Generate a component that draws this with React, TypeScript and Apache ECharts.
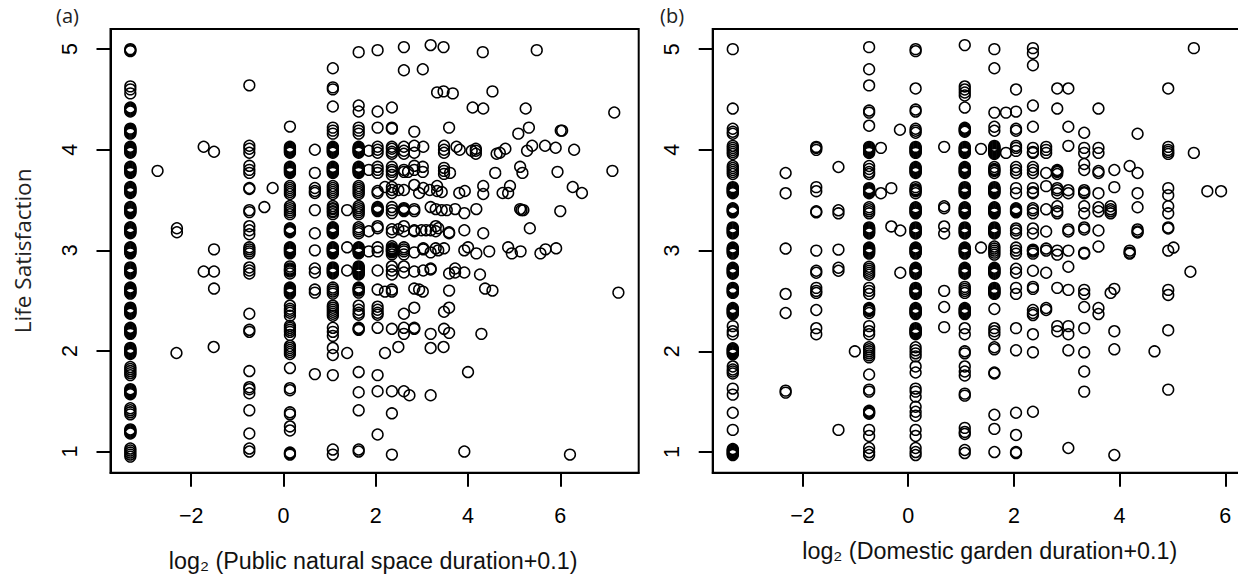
import React, { useEffect, useRef } from "react";
import * as echarts from "echarts";

const xTicksA = [-2, 0, 2, 4, 6];
const xTicksB = [-2, 0, 2, 4, 6];
const yTicks = [1, 2, 3, 4, 5];

// Panel (a): [x, y values] read column by column
const panelAColumns: [number, number[]][] = [
  [-3.32, [5, 4.99, 4.98, 4.63, 4.6, 4.56, 4.42, 4.41, 4.4, 4.39, 4.38, 4.21, 4.2, 4.19, 4.18, 4.17, 4.16,
    4.03, 4.02, 4.01, 4, 3.99, 3.98, 3.97, 3.83, 3.82, 3.81, 3.8, 3.79, 3.78, 3.77, 3.63, 3.62, 3.61, 3.6, 3.59, 3.58, 3.57,
    3.43, 3.42, 3.41, 3.4, 3.39, 3.38, 3.37, 3.23, 3.22, 3.21, 3.2, 3.19, 3.18, 3.17, 3.03, 3.02, 3.01, 3, 2.99, 2.98, 2.97,
    2.83, 2.82, 2.81, 2.8, 2.79, 2.78, 2.77, 2.63, 2.62, 2.61, 2.6, 2.59, 2.58, 2.57, 2.43, 2.42, 2.41, 2.4, 2.39, 2.38, 2.37,
    2.23, 2.22, 2.21, 2.2, 2.19, 2.18, 2.17, 2.03, 2.02, 2.01, 2, 1.99, 1.98, 1.97, 1.84, 1.82, 1.8, 1.78, 1.76,
    1.62, 1.61, 1.6, 1.59, 1.58, 1.57, 1.43, 1.41, 1.39, 1.37, 1.22, 1.21, 1.2, 1.19, 1.18, 1.03, 1.01, 0.99, 0.97, 0.95]],
  [-0.74, [4.64, 4.04, 4.01, 3.97, 3.84, 3.8, 3.77, 3.62, 3.61, 3.4, 3.38, 3.24, 3.2, 3.16, 3.03, 3.01, 2.99, 2.97, 2.83, 2.8, 2.77, 2.37, 2.21, 2.19, 1.8, 1.64, 1.62, 1.58, 1.41, 1.18, 1.03, 1]],
  [0.14, [4.23, 4.03, 4.02, 4.01, 4, 3.99, 3.98, 3.97, 3.83, 3.82, 3.81, 3.8, 3.79, 3.78, 3.77, 3.64, 3.62, 3.6, 3.58, 3.56,
    3.44, 3.42, 3.4, 3.38, 3.36, 3.22, 3.21, 3.2, 3.19, 3.18, 3.03, 3.02, 3.01, 3, 2.99, 2.98, 2.97, 2.84, 2.82, 2.81, 2.8, 2.79, 2.77,
    2.63, 2.62, 2.61, 2.6, 2.59, 2.58, 2.57, 2.45, 2.42, 2.4, 2.38, 2.35, 2.25, 2.23, 2.21, 2.19, 2.16, 2.05, 2.03, 2.01, 1.99, 1.97, 1.83, 1.63, 1.61, 1.39, 1.37, 1.25, 1.21, 0.99, 0.98, 0.97]],
  [0.68, [4, 3.77, 3.62, 3.59, 3.57, 3.4, 3.17, 3, 2.82, 2.78, 2.61, 2.58, 1.77]],
  [1.07, [4.81, 4.62, 4.6, 4.43, 4.22, 4.19, 4.16, 4.03, 4.02, 4.01, 4, 3.99, 3.98, 3.97, 3.83, 3.82, 3.81, 3.8, 3.79, 3.78, 3.77,
    3.64, 3.62, 3.6, 3.58, 3.56, 3.44, 3.42, 3.41, 3.39, 3.38, 3.36, 3.23, 3.22, 3.21, 3.2, 3.19, 3.18, 3.17, 3.03, 3.02, 3.01, 3, 2.99, 2.98, 2.97,
    2.83, 2.82, 2.81, 2.8, 2.79, 2.78, 2.77, 2.63, 2.61, 2.59, 2.57, 2.45, 2.43, 2.41, 2.39, 2.37, 2.35, 2.23, 2.19, 2.15, 2.03, 1.96, 1.76, 1.02, 0.97]],
  [1.38, [3.4, 3.03, 2.8, 1.98]],
  [1.63, [4.97, 4.44, 4.38, 4.22, 4.19, 4.16, 4.03, 4.02, 4.01, 4, 3.99, 3.98, 3.97, 3.83, 3.82, 3.81, 3.8, 3.79, 3.78, 3.77,
    3.64, 3.62, 3.6, 3.58, 3.56, 3.44, 3.42, 3.4, 3.38, 3.36, 3.23, 3.21, 3.19, 3.17, 3.03, 3.02, 3.01, 3, 2.99, 2.98, 2.97,
    2.84, 2.83, 2.82, 2.81, 2.8, 2.79, 2.78, 2.77, 2.76, 2.63, 2.62, 2.61, 2.6, 2.58, 2.45, 2.41, 2.38, 2.36, 2.23, 2.22, 2.21, 1.79, 1.59, 1.41, 1.02, 1]],
  [2.04, [4.99, 4.38, 4.22, 4.03, 4, 3.97, 3.83, 3.8, 3.77, 3.59, 3.57, 3.43, 3.42, 3.41, 3.4, 3.39, 3.24, 3.22, 3.03, 2.99, 2.8, 2.61, 2.44, 2.41, 2.38, 2.36, 2.23, 1.76, 1.6, 1.17]],
  [2.35, [4.42, 4.22, 4.21, 4.03, 4.01, 3.98, 3.96, 3.83, 3.8, 3.78, 3.75, 3.63, 3.6, 3.57, 3.43, 3.4, 3.37, 3.21, 3.18, 3.04, 3.02, 3.01, 3, 2.99, 2.98, 2.96, 2.84, 2.8, 2.76, 2.61, 2.59, 2.22, 1.6, 1.38, 0.97]],
  [2.61, [5.02, 4.79, 4.03, 3.99, 3.96, 3.8, 3.78, 3.6, 3.42, 3.41, 3.4, 3.39, 3.24, 3.19, 3.03, 3.01, 2.99, 2.96, 2.84, 2.78, 2.37, 2.23, 2.17, 1.6]],
  [2.835, [4.18, 4.04, 3.97, 3.84, 3.8, 3.65, 3.41, 3.39, 3.2, 3.19, 2.98, 2.79, 2.62, 2.43, 2.23, 2.22]],
];

const panelAX = [-2.73, -2.31, -2.31, -1.73, -1.506, -1.506, -1.73, -1.506, -1.506, -1.513, -2.32, -0.235, -0.415, 1.85, 1.85, 1.85, 1.85, 2.2, 2.2, 2.2, 2.49, 2.49, 2.49, 2.7, 2.73, 2.94, 2.94, 2.99, 3.02, 3.02, 3.02, 3.02, 3.03, 3.03, 3.03, 3.03, 3.03, 3.09, 3.17, 3.19, 3.19, 3.19, 3.19, 3.19, 3.19, 3.19, 3.19, 3.19, 3.3, 3.3, 3.3, 3.3, 3.33, 3.33, 3.33, 3.355, 3.355, 3.43, 3.43, 3.47, 3.47, 3.47, 3.48, 3.48, 3.48, 3.48, 3.48, 3.48, 3.48, 3.48, 3.48, 3.54, 3.59, 3.59, 3.59, 3.59, 3.59, 3.59, 3.59, 3.61, 3.67, 3.72, 3.72, 3.72, 3.75, 3.81, 3.82, 3.92, 3.92, 3.92, 3.92, 3.93, 4, 4, 4.08, 4.1, 4.17, 4.17, 4.17, 4.18, 4.18, 4.26, 4.29, 4.32, 4.33, 4.33, 4.33, 4.33, 4.37, 4.46, 4.53, 4.53, 4.59, 4.62, 4.69, 4.75, 4.81, 4.87, 4.87, 4.91, 4.95, 5.09, 5.13, 5.13, 5.14, 5.16, 5.18, 5.2, 5.25, 5.28, 5.32, 5.34, 5.39, 5.49, 5.57, 5.67, 5.68, 5.9, 5.91, 5.94, 6, 6.01, 6.04, 6.21, 6.27, 6.3, 6.47, 7.13, 7.17, 7.26, 3.92];
const panelAY = [3.79, 3.22, 3.18, 4.03, 3.98, 3.01, 2.79, 2.79, 2.62, 2.04, 1.98, 3.62, 3.43, 3.99, 3.8, 3.19, 2.99, 3.63, 2.59, 1.98, 3.6, 3.21, 2.04, 3.78, 1.56, 3.57, 2.61, 3.2, 4.8, 3.83, 3.78, 2.59, 4.03, 3.62, 3.01, 3.02, 2.8, 3.2, 3.6, 5.04, 3.43, 3.2, 2.98, 2.81, 2.82, 2.17, 2.03, 1.56, 3.41, 3.24, 3.19, 3.02, 4.57, 3.64, 3.59, 3.22, 3, 3.58, 3.4, 5.02, 4.58, 2.04, 4.04, 4, 3.97, 3.82, 3.79, 3.76, 3.02, 2.39, 2.22, 3.4, 4.22, 3.18, 3.17, 2.77, 2.6, 2.43, 2.18, 3.77, 4.56, 3.41, 2.82, 2.78, 4.03, 3.57, 4, 3.37, 3.2, 3, 2.78, 3.59, 3.03, 1.79, 3.99, 4.42, 4.01, 3.99, 3.96, 3.41, 2.97, 2.76, 2.17, 4.97, 4.41, 3.64, 3.56, 3.17, 2.62, 2.99, 4.58, 2.6, 3.77, 3.96, 3.97, 3.57, 4.01, 3.57, 3.03, 3.64, 2.97, 4.16, 3.83, 3.41, 2.99, 3.4, 3.77, 3.4, 4.41, 3.99, 4.22, 3.22, 4.04, 4.99, 2.97, 4.04, 3.01, 4.02, 3.02, 3.78, 3.39, 4.19, 4.19, 0.97, 3.63, 4, 3.57, 3.79, 4.37, 2.58, 1];

// Panel (b)
const panelBColumns: [number, number[]][] = [
  [-3.32, [5, 4.41, 4.21, 4.18, 4.16, 4.04, 4.02, 4, 3.98, 3.96, 3.84, 3.82, 3.8, 3.78, 3.76, 3.63, 3.62, 3.61, 3.6, 3.59, 3.58, 3.57,
    3.42, 3.41, 3.4, 3.39, 3.38, 3.23, 3.22, 3.21, 3.2, 3.19, 3.18, 3.17, 3.03, 3.02, 3.01, 3, 2.99, 2.98, 2.97, 2.83, 2.82, 2.81, 2.8, 2.79, 2.78, 2.77,
    2.63, 2.62, 2.61, 2.6, 2.59, 2.58, 2.43, 2.42, 2.41, 2.4, 2.39, 2.38, 2.37, 2.25, 2.2, 2.17, 2.03, 2.02, 2.01, 2, 1.99, 1.98, 1.97, 1.85, 1.82, 1.8, 1.78, 1.63, 1.57, 1.39, 1.22, 1.03, 1.02, 1.01, 1, 0.99, 0.98, 0.97]],
  [-2.32, [3.77, 3.57, 3.02, 2.57, 2.38, 1.61, 1.59]],
  [-1.74, [4.03, 4.02, 4, 3.63, 3.59, 3.39, 3.38, 3, 2.8, 2.78, 2.63, 2.6, 2.58, 2.41, 2.23, 2.17]],
  [-1.32, [3.83, 3.4, 3.37, 3.01, 2.83, 2.8, 1.22]],
  [-0.74, [5.02, 4.8, 4.64, 4.39, 4.37, 4.24, 4.03, 4.02, 4.01, 4, 3.99, 3.98, 3.97, 3.84, 3.81, 3.78, 3.76, 3.62, 3.61, 3.6, 3.59, 3.58, 3.57, 3.43, 3.41, 3.39, 3.37,
    3.23, 3.22, 3.21, 3.2, 3.19, 3.18, 3.17, 3.03, 3.02, 3.01, 3, 2.99, 2.98, 2.97, 2.84, 2.82, 2.8, 2.78, 2.76, 2.63, 2.6, 2.57, 2.43, 2.42, 2.41, 2.4, 2.38, 2.25, 2.2, 2.17, 2.04, 2.02, 2, 1.98, 1.96, 1.94, 1.77, 1.62, 1.6, 1.41, 1.4, 1.39, 1.38, 1.22, 1.16, 1.04, 1, 0.97]],
  [0.14, [5, 4.98, 4.61, 4.4, 4.38, 4.21, 4.19, 4.17, 4.03, 4.02, 4.01, 4, 3.99, 3.98, 3.97, 3.83, 3.82, 3.81, 3.8, 3.79, 3.78, 3.77, 3.63, 3.61, 3.6, 3.59, 3.57, 3.43, 3.42, 3.41, 3.4, 3.39, 3.38, 3.37,
    3.23, 3.22, 3.21, 3.2, 3.19, 3.18, 3.17, 3.03, 3.02, 3.01, 3, 2.99, 2.98, 2.97, 2.83, 2.82, 2.81, 2.8, 2.79, 2.78, 2.77, 2.63, 2.62, 2.61, 2.6, 2.59, 2.58, 2.57,
    2.43, 2.42, 2.41, 2.4, 2.39, 2.38, 2.37, 2.23, 2.22, 2.21, 2.2, 2.19, 2.18, 2.17, 2.04, 2.01, 1.98, 1.95, 1.85, 1.79, 1.63, 1.6, 1.55, 1.45, 1.4, 1.36, 1.22, 1.16, 1.04, 1, 0.97]],
  [0.68, [4.03, 3.44, 3.42, 3.24, 3.17, 2.6, 2.44, 2.24]],
  [1.07, [5.04, 4.63, 4.6, 4.57, 4.54, 4.42, 4.22, 4.21, 4.2, 4.19, 4.18, 4.03, 4.02, 4.01, 4, 3.99, 3.98, 3.97, 3.83, 3.82, 3.81, 3.8, 3.79, 3.78, 3.77, 3.63, 3.62, 3.61, 3.6, 3.59, 3.58, 3.57,
    3.43, 3.42, 3.41, 3.4, 3.39, 3.38, 3.37, 3.23, 3.22, 3.21, 3.2, 3.19, 3.18, 3.17, 3.03, 3.02, 3.01, 3, 2.99, 2.98, 2.97, 2.83, 2.82, 2.81, 2.8, 2.79, 2.78, 2.77,
    2.64, 2.62, 2.6, 2.58, 2.43, 2.42, 2.41, 2.4, 2.39, 2.38, 2.37, 2.23, 2.17, 2, 1.98, 1.85, 1.8, 1.76, 1.58, 1.56, 1.24, 1.2, 1.18, 1.02, 0.99]],
  [1.63, [5, 4.81, 4.37, 4.23, 4.19, 4.04, 4.03, 4.02, 4.01, 4, 3.99, 3.98, 3.97, 3.96, 3.83, 3.81, 3.8, 3.79, 3.77, 3.63, 3.62, 3.61, 3.6, 3.59, 3.58, 3.57,
    3.43, 3.42, 3.41, 3.4, 3.39, 3.38, 3.37, 3.23, 3.22, 3.21, 3.2, 3.19, 3.18, 3.17, 3.04, 3.02, 3, 2.98, 2.96, 2.83, 2.82, 2.81, 2.8, 2.79, 2.78, 2.77, 2.63, 2.62, 2.61, 2.6, 2.59, 2.58, 2.57, 2.42, 2.23, 2.2, 2.17, 2.04, 2.02, 1.79, 1.78, 1.37, 1.23, 1]],
  [2.04, [4.6, 4.38, 4.21, 4.19, 4.04, 4.02, 3.99, 3.83, 3.8, 3.77, 3.62, 3.57, 3.42, 3.41, 3.4, 3.39, 3.38, 3.22, 3.2, 3.17, 3.03, 3, 2.97, 2.82, 2.78, 2.63, 2.57, 2.23, 2.01, 1.39, 1.17, 1, 0.99]],
  [2.36, [5.01, 4.96, 4.84, 4.44, 4.23, 4.02, 3.98, 3.97, 3.83, 3.8, 3.77, 3.62, 3.58, 3.57, 3.42, 3.4, 3.37, 3.22, 3.17, 3.01, 3, 2.99, 2.97, 2.8, 2.64, 2.62, 2.41, 2.38, 2.36, 2.17, 1.99, 1.4]],
  [2.61, [4.03, 4, 3.97, 3.77, 3.64, 3.41, 3.19, 3.02, 3, 2.78, 2.43, 2.41]],
  [2.82, [4.61, 4.41, 3.8, 3.79, 3.78, 3.76, 3.62, 3.6, 3.57, 3.44, 3.39, 3.37, 3, 2.96, 2.63, 2.25, 2.2]],
  [3.03, [4.61, 4.23, 4.04, 3.6, 3.57, 3.21, 3.19, 3, 2.84, 2.61, 2.25, 2.17, 2.01, 1.04]],
  [3.33, [4.17, 4.02, 3.97, 3.86, 3.8, 3.6, 3.58, 3.57, 3.44, 3.37, 3.23, 3.21, 2.98, 2.97, 2.61, 2.57, 2.44, 2.23, 1.99, 1.8, 1.6]],
  [3.6, [4.41, 4.02, 3.97, 3.79, 3.77, 3.57, 3.43, 3.39, 3.2, 3.04, 2.43, 2.37]],
  [3.83, [3.44, 3.41, 3.39, 3.37, 2.58]],
  [3.9, [3.8, 3.63, 2.62, 2.2, 2.02, 0.97]],
  [4.19, [3.84, 3, 2.98, 2.97]],
  [4.34, [4.16, 3.77, 3.57, 3.43, 3.21, 3.19, 3.18]],
  [4.92, [4.61, 4.03, 4, 3.98, 3.96, 3.62, 3.55, 3.44, 3.37, 3.23, 3.22, 3, 2.61, 2.56, 2.21, 1.62]],
];

const panelBX = [-1.01, -0.517, -0.517, -0.32, -0.32, -0.157, -0.15, -0.15, 1.377, 1.377, 1.85, 1.85, 4.66, 5.02, 5.34, 5.405, 5.405, 5.66, 5.92];
const panelBY = [2, 4.02, 3.57, 3.62, 3.24, 4.2, 3.2, 2.78, 4.01, 3.03, 4.37, 3.97, 2, 3.03, 2.79, 5.01, 3.97, 3.59, 3.59];

const yLabel = "Life Satisfaction";
const xLabelA = "log₂ (Public natural space duration+0.1)";
const xLabelB = "log₂ (Domestic garden duration+0.1)";
const panelTags = ["(a)", "(b)"];

const expand = (cols: [number, number[]][], xs: number[], ys: number[]) => {
  const out: number[][] = [];
  cols.forEach(([x, vals]) => vals.forEach((y) => out.push([x, y])));
  xs.forEach((x, i) => out.push([x, ys[i]]));
  return out;
};

const scatter = (idx: number, data: number[][]) => ({
  type: "scatter",
  xAxisIndex: idx,
  yAxisIndex: idx,
  data,
  symbol: "circle",
  symbolSize: 10.8,
  silent: true,
  itemStyle: { color: "rgba(0,0,0,0)", borderColor: "#000", borderWidth: 1.5, opacity: 1 },
});

const xAxis = (idx: number, min: number, max: number, ticks: number[], name: string, gap: number, pad: number[]) => ({
  type: "value",
  gridIndex: idx,
  min,
  max,
  position: "bottom",
  splitLine: { show: false },
  axisLine: { show: true, onZero: false, lineStyle: { color: "#000", width: 2 } },
  axisTick: { show: true, length: 14, customValues: ticks, lineStyle: { color: "#000", width: 2 } },
  axisLabel: {
    show: true,
    customValues: ticks,
    margin: 32,
    fontFamily: "Liberation Sans",
    fontSize: 21.5,
    color: "#000",
    formatter: (v: number) => (v < 0 ? "−" + Math.abs(v) : String(v)),
  },
  name,
  nameLocation: "middle",
  nameGap: gap,
  nameTextStyle: { fontFamily: "Liberation Sans", fontSize: 23.3, color: "#111", padding: pad },
});

const yAxis = (idx: number, min: number, max: number, name: string) => ({
  type: "value",
  gridIndex: idx,
  min,
  max,
  position: "left",
  splitLine: { show: false },
  axisLine: { show: true, onZero: false, lineStyle: { color: "#000", width: 2 } },
  axisTick: { show: true, length: 14, customValues: yTicks, lineStyle: { color: "#000", width: 2 } },
  axisLabel: {
    show: true,
    customValues: yTicks,
    rotate: 90,
    margin: 30,
    fontFamily: "Liberation Sans",
    fontSize: 21.5,
    color: "#000",
  },
  name,
  nameLocation: "middle",
  nameGap: 77,
  nameRotate: 90,
  nameTextStyle: { fontFamily: "Open Sans", fontSize: 22.5, color: "#222" },
});

export default function App() {
  const ref = useRef<HTMLDivElement>(null);
  useEffect(() => {
    const chart = echarts.init(ref.current!, undefined, { renderer: "svg" });
    chart.setOption({
      animation: false,
      backgroundColor: "#fff",
      grid: [
        { left: 110.5, top: 29, width: 528.2, height: 443.7, show: true, borderColor: "#000", borderWidth: 2, backgroundColor: "transparent", outerBoundsMode: "none" },
        { left: 712.7, top: 29, width: 548, height: 443.7, show: true, borderColor: "#000", borderWidth: 2, backgroundColor: "transparent", outerBoundsMode: "none" },
      ],
      xAxis: [
        xAxis(0, -3.75, 7.7, xTicksA, xLabelA, 77, [0, 3, 0, 0]),
        xAxis(1, -3.7, 6.67, xTicksB, xLabelB, 67, [0, 0, 0, 6]),
      ],
      yAxis: [yAxis(0, 0.79, 5.2, yLabel), yAxis(1, 0.795, 5.2, "")],
      series: [
        scatter(0, expand(panelAColumns, panelAX, panelAY)),
        scatter(1, expand(panelBColumns, panelBX, panelBY)),
      ],
      graphic: [
        { type: "text", left: 56, top: 5, style: { text: panelTags[0], fontFamily: "Open Sans", fontSize: 20, fill: "#222" } },
        { type: "text", left: 660, top: 5, style: { text: panelTags[1], fontFamily: "Open Sans", fontSize: 20, fill: "#222" } },
      ],
    });
    return () => chart.dispose();
  }, []);
  return <div ref={ref} style={{ position: "absolute", left: 0, top: 0, width: 1238, height: 575 }} />;
}
